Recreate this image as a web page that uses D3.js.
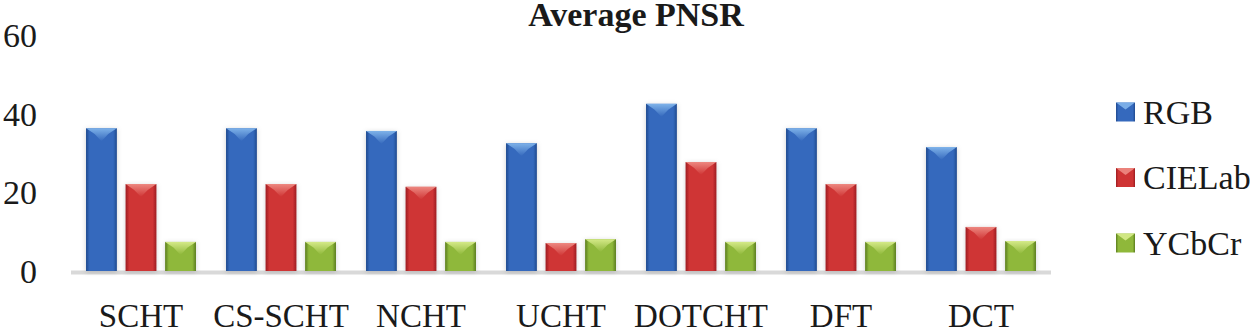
<!DOCTYPE html>
<html>
<head>
<meta charset="utf-8">
<script src="https://cdn.jsdelivr.net/npm/d3@7"></script>
<style>
  body { margin: 0; background: #fff; }
  svg { display: block; }
  text { font-family: "Liberation Serif", "DejaVu Serif", serif; fill: #1a1a1a; }
</style>
</head>
<body>
<script>
const categories = ["SCHT", "CS-SCHT", "NCHT", "UCHT", "DOTCHT", "DFT", "DCT"];
const seriesNames = ["RGB", "CIELab", "YCbCr"];
const rgbValues = [36.3, 36.3, 35.6, 32.5, 42.5, 36.3, 31.5];
const cielabValues = [22.1, 22.1, 21.4, 7.1, 27.7, 22.1, 11.2];
const ycbcrValues = [7.4, 7.4, 7.4, 8.1, 7.4, 7.4, 7.6];
const yTicks = [0, 20, 40, 60];

const width = 1250, height = 330;
const colors = {
  RGB: { dark: "#204a8f", mid: "#3569bd", light: "#86baee" },
  CIELab: { dark: "#9c1c20", mid: "#cf3434", light: "#f09088" },
  YCbCr: { dark: "#5a7c1e", mid: "#8fb83a", light: "#dcef90" }
};

const series = seriesNames.map((name, i) => ({
  name: name,
  values: [rgbValues, cielabValues, ycbcrValues][i]
}));

const svg = d3.select("body").append("svg")
  .attr("width", width)
  .attr("height", height);

const defs = svg.append("defs");
const shadow = defs.append("filter").attr("id", "shadow")
  .attr("x", "-30%").attr("y", "-10%").attr("width", "160%").attr("height", "130%");
shadow.append("feDropShadow")
  .attr("dx", 0).attr("dy", 1).attr("stdDeviation", 2.5)
  .attr("flood-color", "#000").attr("flood-opacity", 0.18);

seriesNames.forEach(name => {
  const c = colors[name];
  const g = defs.append("linearGradient").attr("id", "grad-" + name)
    .attr("x1", "0%").attr("x2", "100%").attr("y1", "0%").attr("y2", "0%");
  g.append("stop").attr("offset", "0%").attr("stop-color", c.dark);
  g.append("stop").attr("offset", "12%").attr("stop-color", c.mid);
  g.append("stop").attr("offset", "50%").attr("stop-color", c.mid);
  g.append("stop").attr("offset", "88%").attr("stop-color", c.mid);
  g.append("stop").attr("offset", "100%").attr("stop-color", c.dark);
  const t = defs.append("linearGradient").attr("id", "top-" + name)
    .attr("x1", "0%").attr("x2", "0%").attr("y1", "0%").attr("y2", "100%");
  t.append("stop").attr("offset", "0%").attr("stop-color", c.light);
  t.append("stop").attr("offset", "100%").attr("stop-color", c.mid);
});

const x0 = d3.scaleBand()
  .domain(categories)
  .range([71, 1051])
  .paddingInner(0)
  .paddingOuter(0);

const x1 = d3.scaleBand()
  .domain(seriesNames)
  .range([0, x0.bandwidth()])
  .paddingInner(0.22)
  .paddingOuter(0.38);

const y = d3.scaleLinear()
  .domain([0, 60])
  .range([271, 35]);

// title
svg.append("text")
  .attr("x", 636)
  .attr("y", 26)
  .attr("text-anchor", "middle")
  .attr("font-size", 34)
  .attr("font-weight", "bold")
  .text("Average PNSR");

// y axis labels (no line)
svg.append("g")
  .selectAll("text")
  .data(yTicks)
  .join("text")
  .attr("x", 37)
  .attr("y", d => y(d))
  .attr("dy", "0.35em")
  .attr("text-anchor", "end")
  .attr("font-size", 34)
  .text(d => d);

// baseline
svg.append("line")
  .attr("x1", x0.range()[0])
  .attr("x2", x0.range()[1])
  .attr("y1", y(0) + 1.5)
  .attr("y2", y(0) + 1.5)
  .attr("stroke", "#d9d9d9")
  .attr("stroke-width", 4);

// bars
const groups = svg.append("g")
  .selectAll("g")
  .data(categories)
  .join("g")
  .attr("transform", d => `translate(${x0(d)},0)`);

function drawBar(sel, w, topDepth) {
  sel.append("rect")
    .attr("x", 0).attr("y", d => y(d.value))
    .attr("width", w)
    .attr("height", d => y(0) - y(d.value))
    .attr("fill", d => `url(#grad-${d.name})`)
    .attr("filter", "url(#shadow)");
  sel.append("path")
    .attr("d", d => {
      const t = y(d.value);
      const depth = Math.min(topDepth, (y(0) - t) / 2);
      return `M0,${t} L${w},${t} L${w * 0.72},${t + depth * 0.45} L${w / 2},${t + depth} L${w * 0.28},${t + depth * 0.45} Z`;
    })
    .attr("fill", d => `url(#top-${d.name})`)
    .attr("opacity", 0.9);
}

const bars = groups.selectAll("g.bar")
  .data((cat, i) => series.map(s => ({ name: s.name, value: s.values[i] })))
  .join("g")
  .attr("class", "bar")
  .attr("transform", d => `translate(${x1(d.name)},0)`);
drawBar(bars, x1.bandwidth(), 13);

// category labels
svg.append("g")
  .selectAll("text")
  .data(categories)
  .join("text")
  .attr("x", d => x0(d) + x0.bandwidth() / 2)
  .attr("y", 327)
  .attr("text-anchor", "middle")
  .attr("font-size", 33)
  .text(d => d);

// legend
const legend = svg.append("g")
  .selectAll("g")
  .data(seriesNames)
  .join("g")
  .attr("transform", (d, i) => `translate(1116,${112 + i * 65.5})`);

const legendSq = 19;
legend.append("rect")
  .attr("x", 0).attr("y", -legendSq / 2)
  .attr("width", legendSq).attr("height", legendSq)
  .attr("fill", d => `url(#grad-${d})`);
legend.append("path")
  .attr("d", `M0,${-legendSq / 2} L${legendSq},${-legendSq / 2} L${legendSq / 2},${-legendSq / 2 + 7} Z`)
  .attr("fill", d => colors[d].light)
  .attr("opacity", 0.85);
legend.append("text")
  .attr("x", 27)
  .attr("y", 0)
  .attr("dy", "0.35em")
  .attr("font-size", 34)
  .text(d => d);
</script>
</body>
</html>
